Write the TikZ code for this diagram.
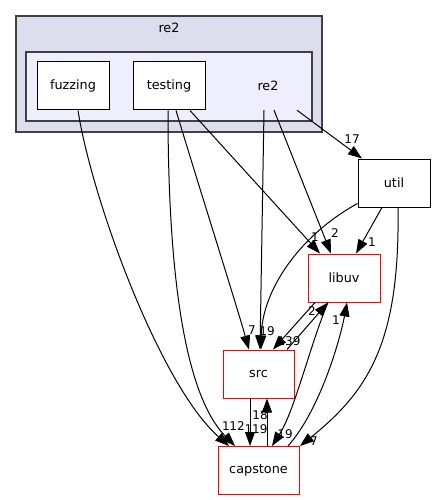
\documentclass[tikz,border=0pt]{standalone}
\usepackage{fontspec}
\setmainfont{DejaVu Sans}
\usetikzlibrary{arrows.meta,calc}
\definecolor{clout}{HTML}{DDDDEE}
\definecolor{clin}{HTML}{EEEEFF}
\definecolor{clbd}{HTML}{404040}
\begin{document}
\begin{tikzpicture}[x=1pt,y=-1pt,
  nodefont/.style={font=\fontsize{12.8}{14}\selectfont},
  box/.style={draw=black,fill=white,line width=1pt,minimum width=72pt,minimum height=48pt,inner sep=0pt,nodefont},
  redbox/.style={box,draw=red},
  cluster/.style={draw=clbd,line width=1.5pt,inner sep=0pt},
  lbl/.style={font=\fontsize{12}{13}\selectfont,inner sep=0pt},
  dep/.style={draw=black,line width=1pt,-{Triangle[length=14pt,width=10pt]}}]
\useasboundingbox (0,0) rectangle (436,500);
\fill[white] (0,0) rectangle (436,500);
% clusters
\node[cluster,fill=clout,minimum width=306pt,minimum height=116pt] (outer) at (169,74) {};
\node[nodefont,inner sep=0pt] (outerlbl) at (169,28) {re2};
\node[cluster,fill=clin,minimum width=286pt,minimum height=69pt] (inner) at (169,86.5) {};
% nodes
\node[box] (fuzzing) at (73,86) {fuzzing};
\node[box] (testing) at (169,86) {testing};
\node[nodefont,minimum width=72pt,minimum height=48pt,inner sep=0pt] (re2) at (268,86) {re2};
\node[box] (util) at (394,183) {util};
\node[redbox] (libuv) at (344,278) {libuv};
\node[redbox,minimum width=71pt] (src) at (258.5,374) {src};
\node[redbox,minimum width=81pt] (capstone) at (258.5,470.5) {capstone};
% labels (drawn before edges)
\node[lbl] (l1) at (226,426) {1};
\node[lbl] (l2) at (237,426) {12};
\node[lbl] (l3) at (256,429) {119};
\node[lbl] (l4) at (260,415) {18};
\node[lbl] (l5) at (285,434) {19};
\node[lbl] (l6) at (314,441) {7};
\node[lbl] (l7) at (336,320) {1};
\node[lbl] (l8) at (312,311) {2};
\node[lbl] (l9) at (289,341) {139};
\node[lbl] (l10) at (252,330) {7};
\node[lbl] (l11) at (267,331) {19};
\node[lbl] (l12) at (315,237) {1};
\node[lbl] (l13) at (335,233) {2};
\node[lbl] (l14) at (352,139) {17};
\node[lbl] (l15) at (372,242) {1};
% edges
\draw[dep] ($(fuzzing.south)+(5,0)$) .. controls (92,200) and (160,385) .. ($(capstone.north)+(-29.5,0)$);
\draw[dep] ($(testing.south)+(-1,0)$) .. controls (168,250) and (180,390) .. ($(capstone.north)+(-23.5,0)$);
\draw[dep] ($(testing.south)+(7,0)$) .. controls (200,190) and (235,300) .. ($(src.north)+(-9.5,0)$);
\draw[dep] ($(testing.south)+(21,0)$) -- ($(libuv.north)+(-24,0)$);
\draw[dep] ($(re2.south)+(-4,0)$) -- ($(src.north)+(1.5,0)$);
\draw[dep] ($(re2.south)+(6,0)$) -- ($(libuv.north)+(-13,0)$);
\draw[dep] ($(re2.south)+(29,0)$) -- ($(util.north)+(-32,0)$);
\draw[dep] ($(util.south)+(-12,0)$) -- ($(libuv.north)+(12,0)$);
\draw[dep] ($(util.south west)+(0,-4)$) .. controls (300,235) and (262,290) .. ($(src.north)+(2.5,0)$);
\draw[dep] ($(util.south)+(4,0)$) .. controls (400,340) and (370,390) .. ($(capstone.north)+(41.5,0)$);
\draw[dep] ($(libuv.south)+(-29,0)$) -- ($(src.north)+(14.5,0)$);
\draw[dep] ($(src.north)+(28.5,0)$) -- ($(libuv.south)+(-16,0)$);
\draw[dep] ($(libuv.south)+(-16,0)$) .. controls (310,345) and (295,410) .. ($(capstone.north)+(13.5,0)$);
\draw[dep] ($(capstone.north)+(29.5,0)$) .. controls (320,410) and (340,340) .. ($(libuv.south)+(3,0)$);
\draw[dep] ($(src.south)+(-8.5,0)$) -- ($(capstone.north)+(-8.5,0)$);
\draw[dep] ($(capstone.north)+(8.5,0)$) -- ($(src.south)+(8.5,0)$);
\end{tikzpicture}
\end{document}
